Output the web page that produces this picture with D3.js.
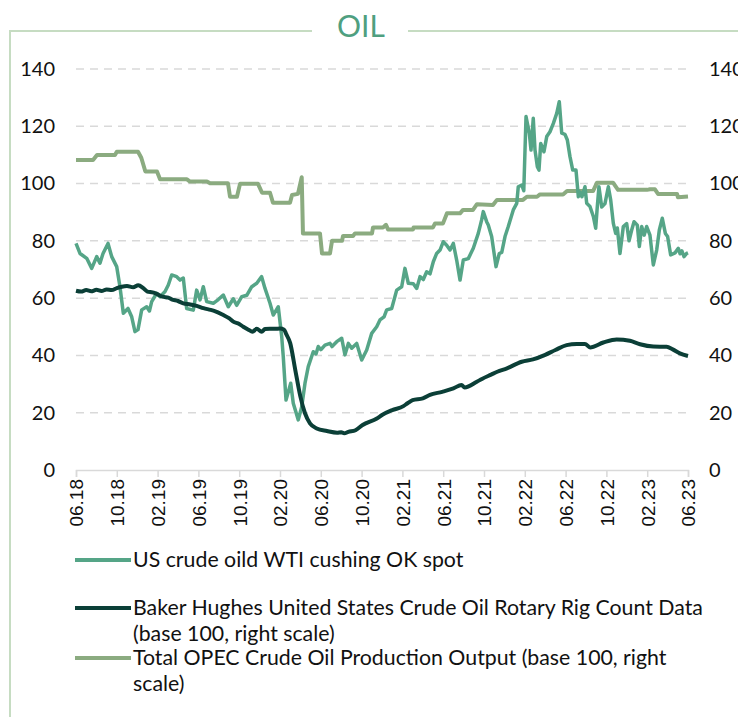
<!DOCTYPE html>
<html><head><meta charset="utf-8">
<script src="https://cdn.jsdelivr.net/npm/d3@7"></script>
<style>body{margin:0;background:#fff}</style></head>
<body><svg id="c" width="738" height="717"></svg>
<script>
// time axis: months since Jan 2018 (5 = June 2018)
const xTickMonths = [5,9,13,17,21,25,29,33,37,41,45,49,53,57,61,65];
const xTickLabels = ["06.18","10.18","02.19","06.19","10.19","02.20","06.20","10.20","02.21","06.21","10.21","02.22","06.22","10.22","02.23","06.23"];
const yTicks = [0,20,40,60,80,100,120,140];

const seriesNames = ["US crude oild WTI cushing OK spot",
  "Baker Hughes United States Crude Oil Rotary Rig Count Data (base 100, right scale)",
  "Total OPEC Crude Oil Production Output (base 100, right scale)"];

const wtiT = [5.0,5.39,6.05,6.54,7.03,7.35,7.65,8.14,8.5,8.99,9.31,9.64,10.1,10.46,10.78,11.08,11.44,11.93,12.2,12.42,12.91,13.24,13.73,14.05,14.38,14.87,15.2,15.52,15.85,16.5,16.83,17.16,17.48,17.81,18.46,18.95,19.44,19.93,20.42,20.75,21.25,21.74,22.23,22.72,23.2,23.53,24.02,24.34,24.83,25.17,25.32,25.59,26.05,26.3,26.79,27.13,27.45,27.77,28.26,28.53,28.75,29.0,29.41,29.9,30.1,30.56,31.05,31.37,31.7,32.03,32.52,33.01,33.5,33.99,34.48,34.8,35.2,35.46,35.95,36.44,36.93,37.25,37.58,38.07,38.4,38.73,39.05,39.38,39.71,40.03,40.36,40.69,41.01,41.34,41.67,41.99,42.32,42.65,42.97,43.46,43.95,44.44,44.77,44.93,45.26,45.42,45.75,46.18,46.5,46.74,47.06,47.38,47.87,48.21,48.36,48.7,48.9,49.12,49.44,49.61,49.83,50.0,50.23,50.39,50.56,50.88,51.15,51.47,51.8,52.13,52.38,52.62,52.94,53.17,53.43,53.7,54.02,54.25,54.41,54.6,54.9,55.07,55.39,55.72,55.95,56.11,56.27,56.54,56.86,57.19,57.42,57.68,57.91,58.07,58.33,58.66,58.99,59.22,59.48,59.71,60.03,60.23,60.46,60.7,60.95,61.27,61.6,61.93,62.19,62.48,62.78,63.0,63.3,63.73,64.05,64.22,64.4,64.61,64.87,65.0];
const wtiV = [79.1,75.6,73.9,70.4,74.5,72.2,75.6,79.1,74.5,71.0,64.0,54.7,56.4,53.5,48.3,49.0,55.9,57.0,55.5,58.8,61.7,60.5,62.3,64.6,68.1,67.5,66.3,67.0,56.4,55.8,62.8,59.4,64.0,58.8,58.2,59.5,61.1,57.0,59.8,57.5,60.5,61.0,64.0,65.2,67.5,63.4,58.2,54.1,57.0,46.5,39.6,24.4,30.3,23.3,17.5,22.1,30.3,36.1,41.3,40.5,43.1,42.0,43.6,44.2,43.1,44.8,46.0,40.2,44.2,42.5,44.2,38.4,41.9,47.7,50.0,52.4,53.5,55.9,56.4,62.8,64.0,70.4,65.2,65.0,63.4,67.5,66.5,69.2,68.5,72.7,75.6,76.8,79.7,78.5,76.8,79.1,73.3,66.3,73.3,73.8,77.4,82.6,87.3,90.2,86.7,85.5,81.5,71.0,75.6,76.0,81.5,85.0,90.8,93.1,98.9,99.5,97.5,123.4,117.6,111.7,122.8,111.7,105.9,104.7,114.0,111.1,116.4,118.1,121.0,124.5,128.6,117.6,117.2,115.2,109.4,104.7,104.7,95.4,97.0,95.4,98.9,93.1,92.0,88.5,84.4,92.0,98.9,91.8,93.0,98.9,94.3,86.1,82.6,84.5,75.6,85.0,86.0,80.0,83.8,86.7,85.5,78.0,85.0,82.0,85.0,82.0,71.6,76.8,83.8,87.9,82.6,81.5,75.1,75.8,77.4,75.5,76.5,74.5,75.6,75.8];

const rigT = [5.0,5.5,6.0,6.5,7.0,7.5,8.0,8.5,9.0,9.5,10.0,10.6,11.1,11.6,12.0,12.5,12.91,13.5,14.05,14.38,15.0,15.52,16.2,16.83,17.5,18.2,18.6,19.44,20.0,20.42,21.0,21.4,21.9,22.3,22.72,23.2,23.53,24.0,24.5,25.0,25.4,25.6,26.0,26.5,27.0,27.45,27.94,28.6,29.6,30.6,31.0,31.3,31.7,32.4,33.1,34.5,35.0,36.0,37.1,37.5,38.0,39.0,39.7,40.9,42.0,42.8,43.1,44.3,44.8,45.7,46.3,47.25,48.7,49.8,51.0,52.0,53.1,54.1,54.9,55.4,56.7,58.0,59.3,60.3,61.6,62.9,63.5,64.2,65.0];
const rigV = [62.6,62.3,62.8,62.4,62.9,62.5,63.0,62.8,63.5,64.0,64.2,63.8,64.5,63.5,62.3,62.0,61.5,60.5,60.2,59.6,59.0,58.2,57.8,57.3,56.5,55.9,55.5,54.1,53.0,51.8,51.0,50.0,49.0,48.3,49.3,48.3,49.2,49.3,49.3,49.4,49.0,47.5,44.3,34.9,25.6,19.8,16.3,14.5,13.6,13.0,13.2,12.8,13.3,13.9,15.7,18.0,19.2,20.9,22.3,23.3,24.4,25.0,26.2,27.3,28.5,29.7,28.8,30.8,31.8,33.3,34.3,35.5,37.8,38.6,40.2,41.9,43.6,44.0,44.0,42.8,44.5,45.6,45.1,43.9,43.1,43.0,42.1,40.7,39.8];

const opecT = [5.0,6.67,7.06,8.82,9.0,11.08,11.4,11.8,12.94,13.24,15.88,16.18,17.84,18.14,19.9,20.1,20.78,21.08,22.84,23.24,24.02,24.31,25.98,26.18,26.76,27.13,27.25,28.92,29.12,29.9,30.1,31.08,31.18,32.16,32.35,34.02,34.12,35.1,35.39,35.59,38.04,38.1,40.0,40.2,40.98,41.37,42.65,42.94,43.92,44.31,45.88,46.27,48.82,49.2,50.2,50.49,52.75,53.14,55.69,56.08,57.65,58.14,60.98,61.27,61.76,62.06,63.92,64.02,65.0];
const opecV = [108.2,108.2,110.0,110.0,111.1,111.1,109.0,104.2,104.2,101.5,101.5,100.7,100.7,100.1,100.1,95.4,95.4,99.9,99.9,96.8,96.8,93.3,93.3,96.0,96.4,102.2,82.6,82.6,75.6,75.6,80.0,80.0,81.7,81.7,82.6,82.6,84.7,84.7,85.6,84.0,84.0,84.7,84.7,86.1,86.1,89.6,89.6,90.8,90.8,92.8,92.5,94.3,94.3,95.4,95.4,96.2,96.2,97.4,97.4,100.3,100.3,97.8,97.8,98.0,98.0,96.4,96.4,95.2,95.5];

const colors = {wti:"#55a587", rig:"#0b3f37", opec:"#8bab80"};

const svg = d3.select("#c");
const x = d3.scaleLinear().domain([5,65]).range([76,688]);
const y = d3.scaleLinear().domain([0,140]).range([470,69]);

// frame + title
const frameCol = "#c6dcc2";
svg.append("path").attr("d","M10,717 L10,31 L312,31 M408,31 L738,31")
  .attr("fill","none").attr("stroke",frameCol).attr("stroke-width",2);
svg.append("text").attr("x",361).attr("y",37).attr("text-anchor","middle")
  .attr("font-family","Lato").attr("font-weight",400).attr("font-size",30)
  .attr("fill","#4f9f80").text("OIL");

// gridlines
svg.append("g").selectAll("line").data(yTicks.filter(d=>d>0)).join("line")
  .attr("x1",76).attr("x2",688).attr("y1",d=>y(d)).attr("y2",d=>y(d))
  .attr("stroke","#d9d9d9").attr("stroke-width",1.5).attr("stroke-dasharray","8,6");

// left / right axes
const axL = svg.append("g").attr("transform","translate(76,0)")
  .call(d3.axisLeft(y).tickValues(yTicks).tickSize(0).tickPadding(21));
const axR = svg.append("g").attr("transform","translate(688,0)")
  .call(d3.axisRight(y).tickValues(yTicks).tickSize(0).tickPadding(21));
[axL,axR].forEach(a=>{a.select(".domain").remove();
  a.selectAll("text").attr("font-family","Lato").attr("font-size",20).attr("fill","#111");});

// x axis
const axB = svg.append("g").attr("transform","translate(0,470)")
  .call(d3.axisBottom(x).tickValues(xTickMonths).tickSize(7).tickFormat((d,i)=>xTickLabels[i]));
axB.select(".domain").attr("stroke","#d9d9d9").attr("stroke-width",1.5);
axB.selectAll(".tick line").attr("stroke","#d9d9d9").attr("stroke-width",1.5);
axB.selectAll("text").attr("transform","rotate(-90)").attr("text-anchor","end")
  .attr("x",-9).attr("y",0).attr("dy","0.36em")
  .attr("font-family","Liberation Sans, Arial").attr("font-size",19).attr("fill","#111");

// lines
const mk = (T,V)=>T.map((t,i)=>[t,V[i]]);
const line = d3.line().x(d=>x(d[0])).y(d=>y(d[1]));
svg.append("path").datum(mk(opecT,opecV)).attr("d",line)
  .attr("fill","none").attr("stroke",colors.opec).attr("stroke-width",4).attr("stroke-linejoin","round");
svg.append("path").datum(mk(wtiT,wtiV)).attr("d",line)
  .attr("fill","none").attr("stroke",colors.wti).attr("stroke-width",3.5).attr("stroke-linejoin","round");
svg.append("path").datum(mk(rigT,rigV)).attr("d",line.curve(d3.curveMonotoneX))
  .attr("fill","none").attr("stroke",colors.rig).attr("stroke-width",4).attr("stroke-linejoin","round");

// legend
const leg = [
  {c:colors.wti, y:560, lines:["US crude oild WTI cushing OK spot"]},
  {c:colors.rig, y:608, lines:["Baker Hughes United States Crude Oil Rotary Rig Count Data","(base 100, right scale)"]},
  {c:colors.opec, y:658, lines:["Total OPEC Crude Oil Production Output (base 100, right","scale)"]}
];
const lg = svg.append("g");
leg.forEach(L=>{
  lg.append("line").attr("x1",75).attr("x2",131).attr("y1",L.y).attr("y2",L.y)
    .attr("stroke",L.c).attr("stroke-width",4);
  L.lines.forEach((s,i)=>{
    lg.append("text").attr("x",133).attr("y",L.y+7+i*25.5)
      .attr("font-family","Lato").attr("font-size",21.3).attr("fill","#111").text(s);
  });
});
</script></body></html>
